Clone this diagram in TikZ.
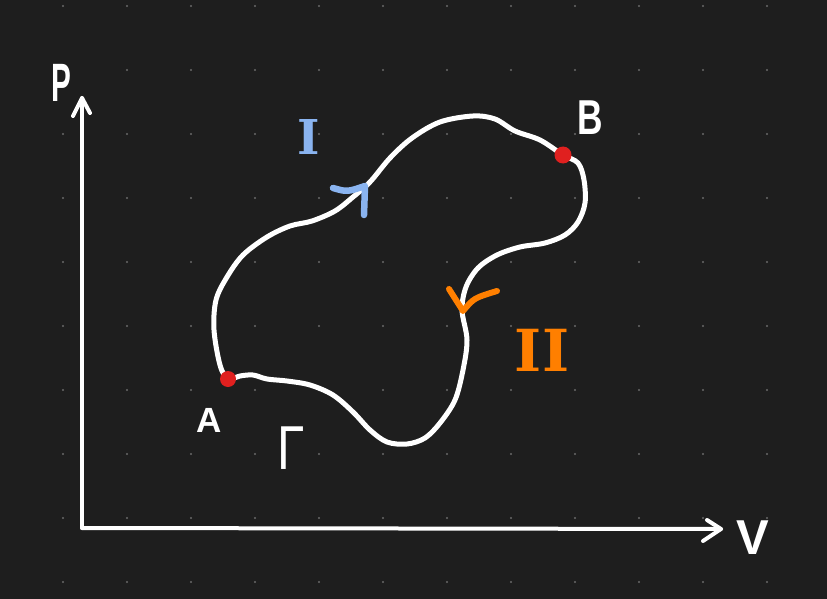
\documentclass[tikz,border=0pt]{standalone}
\usepackage{fontspec}
\usepackage{graphicx}
\setmainfont{Liberation Sans}
\newfontfamily\numfont{DejaVu Serif}
\definecolor{bgc}{HTML}{1E1E1E}
\definecolor{dotc}{HTML}{6A6A6A}
\definecolor{blueI}{HTML}{8AB4F0}
\definecolor{orangeII}{HTML}{FF7F00}
\definecolor{redpt}{HTML}{E0201F}
\tikzset{
  axisline/.style={draw=white, line width=4pt, line cap=round, line join=round},
  curveline/.style={draw=white, line width=5pt, line cap=round, line join=round},
  markI/.style={draw=blueI, line width=6.5pt, line cap=round, line join=round},
  markII/.style={draw=orangeII, line width=6pt, line cap=round, line join=round},
  lbl/.style={text=white, inner sep=0pt, font=\bfseries},
  pt/.style={fill=redpt, draw=none}
}
\begin{document}
\begin{tikzpicture}[x=1pt,y=-1pt]
\useasboundingbox (0,0) rectangle (827,599);
\fill[bgc] (0,0) rectangle (827,599);
% grid dots
\foreach \gx in {0,...,11}{
  \foreach \gy in {0,...,9}{
    \fill[dotc] (63+64*\gx,6+64*\gy) circle (1.1);
  }
}
% axes
\coordinate (O) at (82,528);
\coordinate (Ptip) at (82,98);
\coordinate (Vtip) at (721,529);
\draw[axisline] (O) -- (Ptip);
\draw[axisline] (O) -- (Vtip);
\draw[axisline] ([shift={(-9,18)}]Ptip) -- (Ptip) -- ([shift={(8,15)}]Ptip);
\draw[axisline] ([shift={(-14,-9)}]Vtip) -- (Vtip) -- ([shift={(-18,12)}]Vtip);
% axis labels
\node[lbl] (lP) at (61,83) {\fontsize{54}{54}\selectfont\scalebox{0.55}[1]{P}};
\node[lbl] (lV) at (753,538) {\fontsize{49}{49}\selectfont V};
% closed path
\coordinate (A) at (228,379);
\coordinate (B) at (563,155);
\draw[curveline] plot[smooth cycle, tension=0.55] coordinates {
 (228,379) (220,365) (214,330) (216,300) (227,277) (243,255) (267,237)
 (290,226) (312,221) (335,211) (353,197) (370,182) (390,158) (412,138)
 (440,122) (473,116) (495,119) (515,131) (540,140) (563,155) (578,163)
 (584,180) (585,203) (578,222) (565,235) (545,243) (520,247) (497,255)
 (478,268) (466,287) (462,310) (467,340) (463,370) (455,400) (440,423)
 (425,438) (407,444) (387,442) (370,430) (353,412) (333,395) (310,385)
 (287,381) (267,379) (253,375) (240,376)};
% direction marks
\draw[markI] (333,188) .. controls (347,192) .. (365,186) -- (364,215);
\draw[markII] (449,289) -- (463,311) .. controls (474,298) .. (497,291);
% points
\fill[pt] (A) circle (8);
\fill[pt] (B) circle (8.5);
% labels
\node[lbl] (lA) at (209,420) {\fontsize{35}{35}\selectfont A};
\node[lbl] (lB) at (590,118) {\fontsize{49}{49}\selectfont\scalebox{0.72}[1]{B}};
\node[lbl] (lG) at (291,448) {\mdseries\fontsize{62}{62}\selectfont\scalebox{0.8}[1]{Γ}};
\node[lbl, text=blueI] (lI) at (309,137) {\numfont\bfseries\fontsize{48}{48}\selectfont I};
\node[lbl, text=orangeII] (lII) at (542,350) {\numfont\bfseries\fontsize{58}{58}\selectfont II};
\end{tikzpicture}
\end{document}
